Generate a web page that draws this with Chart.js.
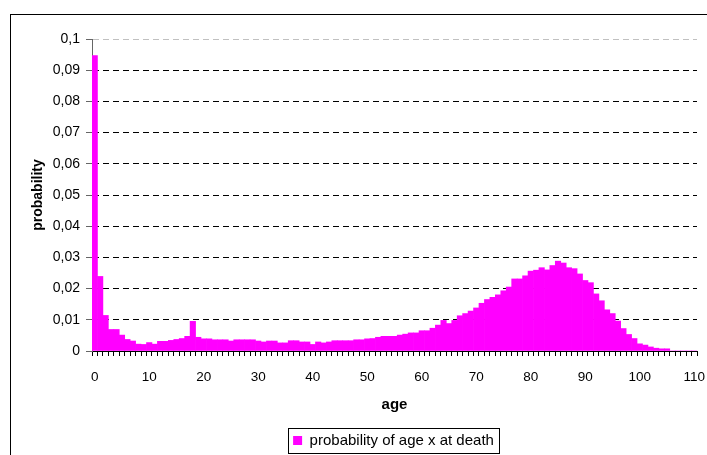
<!DOCTYPE html>
<html>
<head>
<meta charset="utf-8">
<script src="https://cdn.jsdelivr.net/npm/chart.js@4/dist/chart.umd.min.js"></script>
<style>
  html, body { margin: 0; padding: 0; background: #fff; overflow: hidden; }
  #wrap { position: relative; width: 707px; height: 455px; overflow: hidden; }
  #frame { position: absolute; left: 10px; top: 14px; width: 800px; height: 600px; border: 1px solid #000; }
  #chart { position: absolute; left: 0; top: 0; }
</style>
</head>
<body>
<div id="wrap">
  <div id="frame"></div>
  <canvas id="chart" width="707" height="455"></canvas>
</div>
<script>
// ages 0..110
const ages = [];
for (let a = 0; a <= 110; a++) ages.push(a);

// probability of dying at age x
const probInfant = [0.0947, 0.0239, 0.0114, 0.0069, 0.0069, 0.0051, 0.0037, 0.0032, 0.0022, 0.0021];
const probYoung = [0.0027, 0.0022, 0.0031, 0.0031, 0.0034, 0.0037, 0.0040, 0.0047, 0.0095, 0.0044,
	0.0039, 0.0039, 0.0036, 0.0036, 0.0036, 0.0032, 0.0036, 0.0036, 0.0036, 0.0036,
	0.0032, 0.0029, 0.0032, 0.0032, 0.0026, 0.0026, 0.0033, 0.0033, 0.0029, 0.0029];
const probMiddle = [0.0021, 0.0029, 0.0026, 0.0029, 0.0033, 0.0033, 0.0033, 0.0033, 0.0036, 0.0036,
	0.0039, 0.0040, 0.0044, 0.0047, 0.0047, 0.0047, 0.0051, 0.0054, 0.0058, 0.0058,
	0.0065, 0.0065, 0.0073, 0.0083, 0.0098, 0.0088, 0.0098, 0.0113, 0.0120, 0.0128];
const probOld = [0.0138, 0.0153, 0.0165, 0.0172, 0.0180, 0.0193, 0.0205, 0.0231, 0.0231, 0.0241,
	0.0256, 0.0259, 0.0267, 0.0260, 0.0274, 0.0288, 0.0282, 0.0267, 0.0264, 0.0247,
	0.0226, 0.0219, 0.0183, 0.0161, 0.0132, 0.0120, 0.0096, 0.0072, 0.0053, 0.0040,
	0.0023, 0.0019, 0.0013, 0.0009, 0.0007, 0.0007, 0, 0, 0, 0, 0];

const probability = [...probInfant, ...probYoung, ...probMiddle, ...probOld];

const yTicks = { min: 0, max: 0.1, step: 0.01 };

const fmtComma = (v) => {
	const s = Number(v.toFixed(2)).toString();
	return s.replace('.', ',');
};

const font = 'Liberation Sans, Arial, sans-serif';

// excel puts the legend under the plot area, with a box round it
const legendBox = {
	id: 'legendBox',
	afterLayout(chart) {
		const lg = chart.legend;
		if (!lg) return;
		const dx = 35, dy = 3;
		lg.left += dx; lg.right += dx;
		lg.top += dy; lg.bottom += dy;
	},
	afterDraw(chart) {
		const hb = chart.legend && chart.legend.legendHitBoxes && chart.legend.legendHitBoxes[0];
		if (!hb) return;
		const ctx = chart.ctx;
		ctx.save();
		ctx.strokeStyle = '#000';
		ctx.lineWidth = 1;
		ctx.strokeRect(Math.round(hb.left - 5) + 0.5, Math.round(hb.top - 5) + 0.5,
			Math.round(hb.width + 10), 25);
		ctx.restore();
	},
};

const context = document.querySelector('#chart');
const ageChart = new Chart(context, {
	type: 'bar',
	data: {
		labels: ages,
		datasets: [
			{
				label: 'probability of age x at death',
				data: probability,
				backgroundColor: '#ff00ff',
				borderWidth: 0,
				categoryPercentage: 1,
				barPercentage: 1,
			},
		],
	},
	options: {
		responsive: false,
		animation: false,
		devicePixelRatio: 1,
		layout: { padding: { left: 20, right: 10, top: 39, bottom: 0 } },
		plugins: {
			tooltip: { enabled: false },
			legend: {
				position: 'bottom',
				labels: {
					boxWidth: 9,
					boxHeight: 9,
					padding: 10,
					color: '#000',
					font: { family: font, size: 15 },
				},
			},
		},
		scales: {
			x: {
				afterFit: (scale) => {
					scale.height = 69;
					scale.paddingLeft = 0;
					scale.paddingRight = 0;
				},
				grid: {
					display: true,
					drawOnChartArea: false,
					drawTicks: true,
					tickLength: 5,
					color: '#000',
				},
				border: { display: true, color: '#000', width: 1 },
				ticks: {
					autoSkip: false,
					maxRotation: 0,
					minRotation: 0,
					padding: 13,
					color: '#000',
					font: { family: font, size: 13.5 },
					callback: (v, i) => (ages[i] % 10 === 0 ? String(ages[i]) : ''),
				},
				title: {
					display: true,
					text: 'age',
					color: '#000',
					font: { family: font, size: 15, weight: 'bold' },
					padding: { top: 4, bottom: 6 },
				},
			},
			y: {
				min: yTicks.min,
				max: yTicks.max,
				afterFit: (scale) => {
					scale.width = 72;
					scale.paddingTop = 0;
					scale.paddingBottom = 0;
				},
				grid: {
					drawTicks: true,
					tickLength: 6,
					tickColor: '#666',
					color: (c) => {
						if (c.tick.value === 0) return 'rgba(0,0,0,0)';
						if (c.tick.value > 0.095) return '#c0c0c0';
						return '#000';
					},
				},
				border: { display: true, color: '#666', width: 1, dash: [6, 4] },
				ticks: {
					stepSize: yTicks.step,
					padding: 6,
					color: '#000',
					font: { family: font, size: 14 },
					callback: (v) => fmtComma(v),
				},
				title: {
					display: true,
					text: 'probability',
					color: '#000',
					font: { family: font, size: 14, weight: 'bold' },
					padding: { top: 10, bottom: 0 },
				},
			},
		},
	},
	plugins: [legendBox],
});
</script>
</body>
</html>
